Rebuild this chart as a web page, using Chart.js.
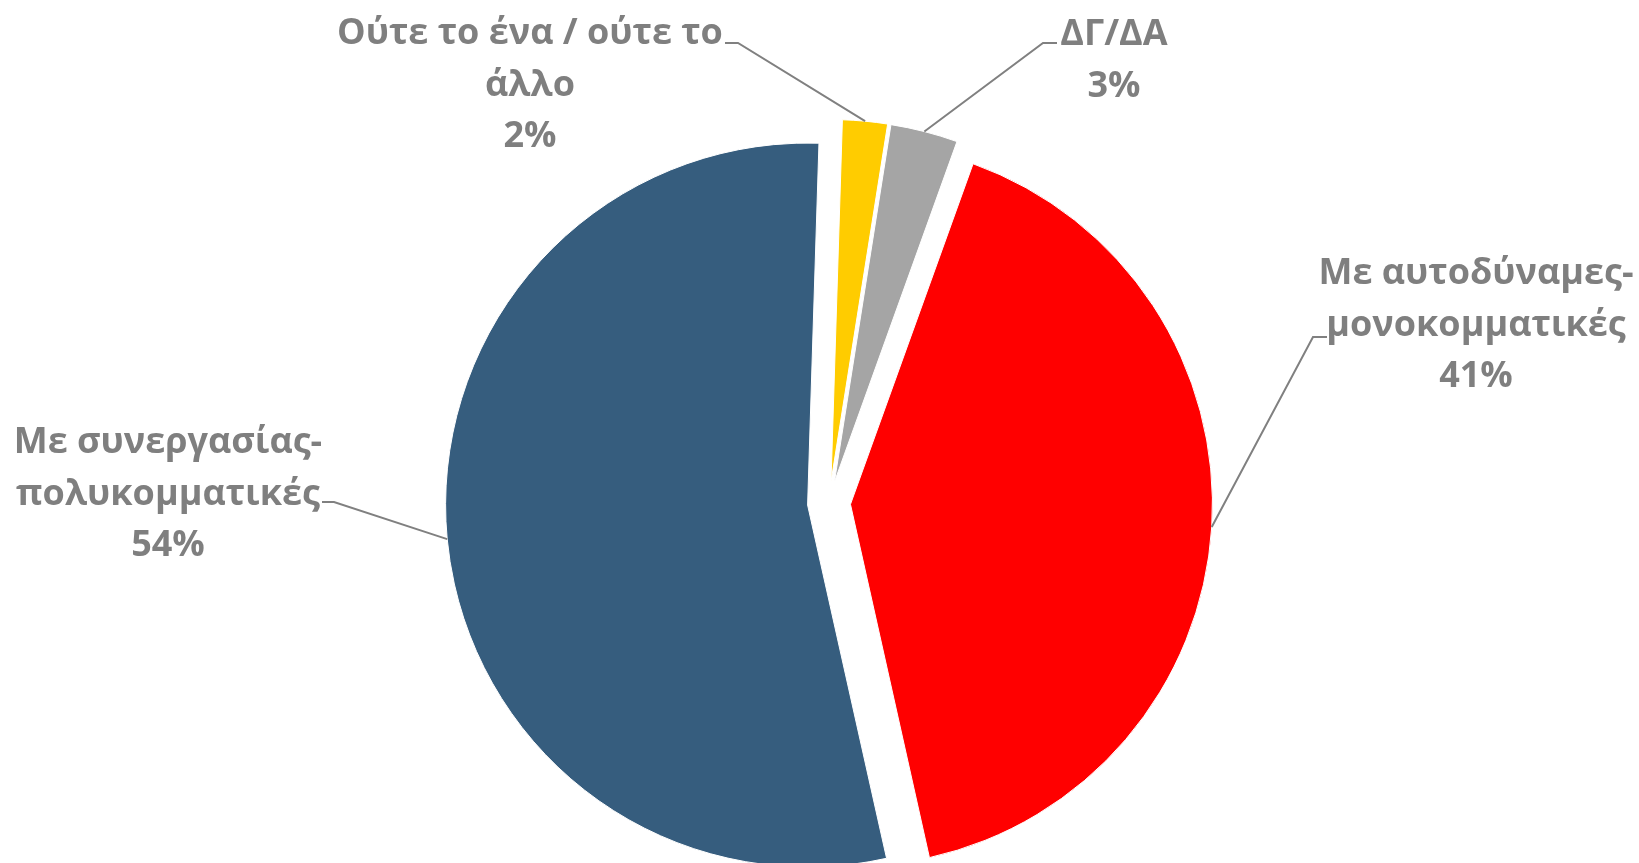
<!DOCTYPE html>
<html>
<head>
    <title>Pie Chart</title>
    <script src="https://cdn.jsdelivr.net/npm/chart.js"></script>
    <style>
        body { margin: 0; background: #fff; }
    </style>
</head>
<body>
    <canvas id="myChart" width="1639" height="863"></canvas>
    <script>
        const categories = [
            ['Ούτε το ένα / ούτε το', 'άλλο'],
            ['ΔΓ/ΔΑ'],
            ['Με αυτοδύναμες-', 'μονοκομματικές'],
            ['Με συνεργασίας-', 'πολυκομματικές']
        ];
        const values = [2, 3, 41, 54];
        const colors = ['#FFCC00', '#A5A5A5', '#FF0000', '#365D7E'];

        // where each label sits: text centre, first baseline, leader elbow and leader end
        const labelLayout = [
            { x: 530, y: 44, elbowX: 738, elbowY: 43, endX: 725, endY: 43 },
            { x: 1114, y: 45, elbowX: 1043, elbowY: 43, endX: 1057, endY: 43 },
            { x: 1476, y: 284, elbowX: 1313, elbowY: 337, endX: 1327, endY: 337 },
            { x: 168, y: 453, elbowX: 334, elbowY: 502, endX: 322, endY: 502 }
        ];
        const explode = 21.5;
        const lineHeight = 51.5;

        // pull every slice out of the centre by the same distance
        const explodePlugin = {
            id: 'explode',
            beforeDatasetDraw(chart, args) {
                args.meta.data.forEach(arc => {
                    const mid = (arc.startAngle + arc.endAngle) / 2;
                    arc.x += Math.cos(mid) * explode;
                    arc.y += Math.sin(mid) * explode;
                });
            },
            afterDatasetDraw(chart, args) {
                args.meta.data.forEach(arc => {
                    const mid = (arc.startAngle + arc.endAngle) / 2;
                    arc.x -= Math.cos(mid) * explode;
                    arc.y -= Math.sin(mid) * explode;
                });
            }
        };

        const labelPlugin = {
            id: 'outsideLabels',
            afterDraw(chart) {
                const ctx = chart.ctx;
                const arcs = chart.getDatasetMeta(0).data;
                ctx.save();
                ctx.strokeStyle = '#808080';
                ctx.lineWidth = 2;
                ctx.fillStyle = '#7F7F7F';
                ctx.font = 'bold 36px "Open Sans"';
                ctx.textAlign = 'center';
                arcs.forEach((arc, i) => {
                    const mid = (arc.startAngle + arc.endAngle) / 2;
                    const r = arc.outerRadius + explode;
                    const lay = labelLayout[i];
                    ctx.beginPath();
                    ctx.moveTo(arc.x + Math.cos(mid) * r, arc.y + Math.sin(mid) * r);
                    ctx.lineTo(lay.elbowX, lay.elbowY);
                    ctx.lineTo(lay.endX, lay.endY);
                    ctx.stroke();
                    const lines = categories[i].concat(values[i] + '%');
                    lines.forEach((t, k) => ctx.fillText(t, lay.x, lay.y + k * lineHeight));
                });
                ctx.restore();
            }
        };

        const ctx = document.getElementById('myChart').getContext('2d');
        new Chart(ctx, {
            type: 'pie',
            data: {
                labels: categories,
                datasets: [{
                    data: values,
                    backgroundColor: colors,
                    borderColor: '#FFFFFF',
                    borderWidth: 1,
                    rotation: 1.8,
                    radius: 362
                }]
            },
            options: {
                responsive: false,
                animation: false,
                events: [],
                layout: { padding: { left: 19, right: 0, top: 143, bottom: 0 } },
                plugins: {
                    legend: { display: false },
                    tooltip: { enabled: false }
                }
            },
            plugins: [explodePlugin, labelPlugin]
        });
    </script>
</body>
</html>
